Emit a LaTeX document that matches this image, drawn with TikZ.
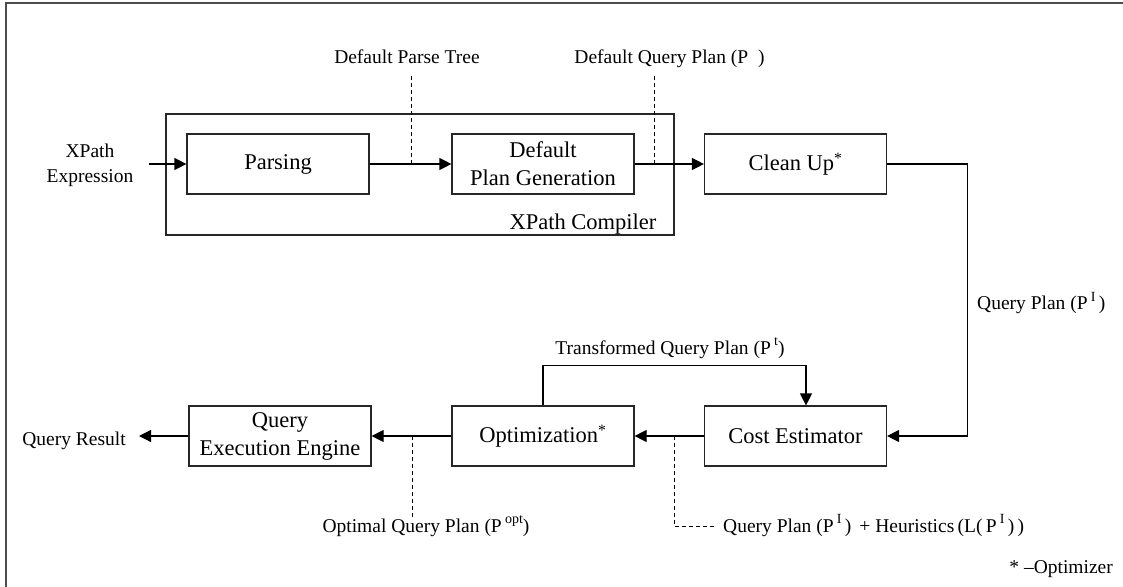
\documentclass[tikz,border=0pt]{standalone}
\usepackage{fontspec}
\setmainfont{Liberation Serif}
\usetikzlibrary{arrows.meta}
\newcommand\supx[1]{\raisebox{0.45em}{\fontsize{14}{14}\selectfont #1}}
\begin{document}
\begin{tikzpicture}[x=1pt,y=-1pt,
  box/.style={draw=black!85, line width=1.2pt, minimum width=182pt, minimum height=60pt, inner sep=0pt, align=center, font=\fontsize{22.5}{28}\selectfont},
  lbl/.style={inner sep=0pt, font=\fontsize{19.5}{25}\selectfont},
  conn/.style={line width=1.2pt, -{Triangle[length=12pt,width=12pt]}},
  dsh/.style={line width=1pt, dash pattern=on 4pt off 3pt}]
\useasboundingbox (0,0) rectangle (1123,586);
% outer frame (only top and left visible)
\draw[line width=2pt, black!70] (6,600) -- (6,3) -- (1140,3);

% compiler group
\node[draw=black!85, line width=1.2pt, minimum width=508pt, minimum height=121pt, inner sep=0pt] (compiler) at (420,174.5) {};
\node[lbl, anchor=base, font=\fontsize{22.5}{25}\selectfont] (complbl) at (583,229) {XPath Compiler};

% boxes
\node[box] (parse) at (278,164) {Parsing};
\node[box] (dpg) at (543,164) {Default\\Plan Generation};
\node[box] (clean) at (795.5,164) {Clean Up\textsuperscript{*}};
\node[box] (cost) at (795.5,436) {Cost Estimator};
\node[box] (opt) at (543,436) {Optimization\textsuperscript{*}};
\node[box] (qee) at (280,436) {Query\\Execution Engine};

% free labels
\node[lbl, align=center] (xpe) at (90,165.5) {XPath\\Expression};
\node[lbl, anchor=base] (dpt) at (407,63.5) {Default Parse Tree};
\node[lbl, anchor=base] (dqp) at (669.5,63.5) {Default Query Plan (P\,\,\,)};
\node[lbl, anchor=west] (qpi) at (977,303) {Query Plan (P\,\supx{I}\,)};
\node[lbl, anchor=base] (tqp) at (670,354) {Transformed Query Plan (P\,\supx{t})};
\node[lbl, anchor=base] (oqp) at (426,532) {Optimal Query Plan (P\,\supx{opt})};
\node[lbl, anchor=base west] (qph) at (723,532) {Query Plan (P\,\supx{I}\,) \,+ Heuristics\,(L(\,P\,\supx{I}\,)\,)};
\node[lbl, anchor=base east] (qr) at (126,445) {Query Result};
\node[lbl, anchor=base east] (note) at (1113,573) {* --Optimizer};

% coordinates
\coordinate (xin) at (149,164);
\coordinate (ptc) at (411,164);
\coordinate (ptt) at (411,75);
\coordinate (dqc) at (654,164);
\coordinate (dqt) at (654,75);
\coordinate (qrtip) at (139,436);
\coordinate (oc) at (412,436);
\coordinate (ob) at (412,517);
\coordinate (hc) at (674,436);
\coordinate (hb) at (674,526);
\coordinate (he) at (715,526);

% connectors
\draw[conn] (xin) -- (parse.west);
\draw[conn] (parse.east) -- (dpg.west);
\draw[conn] (dpg.east) -- (clean.west);
\draw[conn] (clean.east) -- ++(80,0) |- (cost.east);
\draw[conn] (cost.west) -- (opt.east);
\draw[conn] (opt.west) -- (qee.east);
\draw[conn] (qee.west) -- (qrtip);
\draw[conn] (opt.north) -- ++(0,-40) -| ([xshift=10.5pt]cost.north);

% dashed annotations
\draw[dsh] (ptc) -- (ptt);
\draw[dsh] (dqc) -- (dqt);
\draw[dsh] (oc) -- (ob);
\draw[dsh] (hc) -- (hb) -- (he);
\end{tikzpicture}
\end{document}
